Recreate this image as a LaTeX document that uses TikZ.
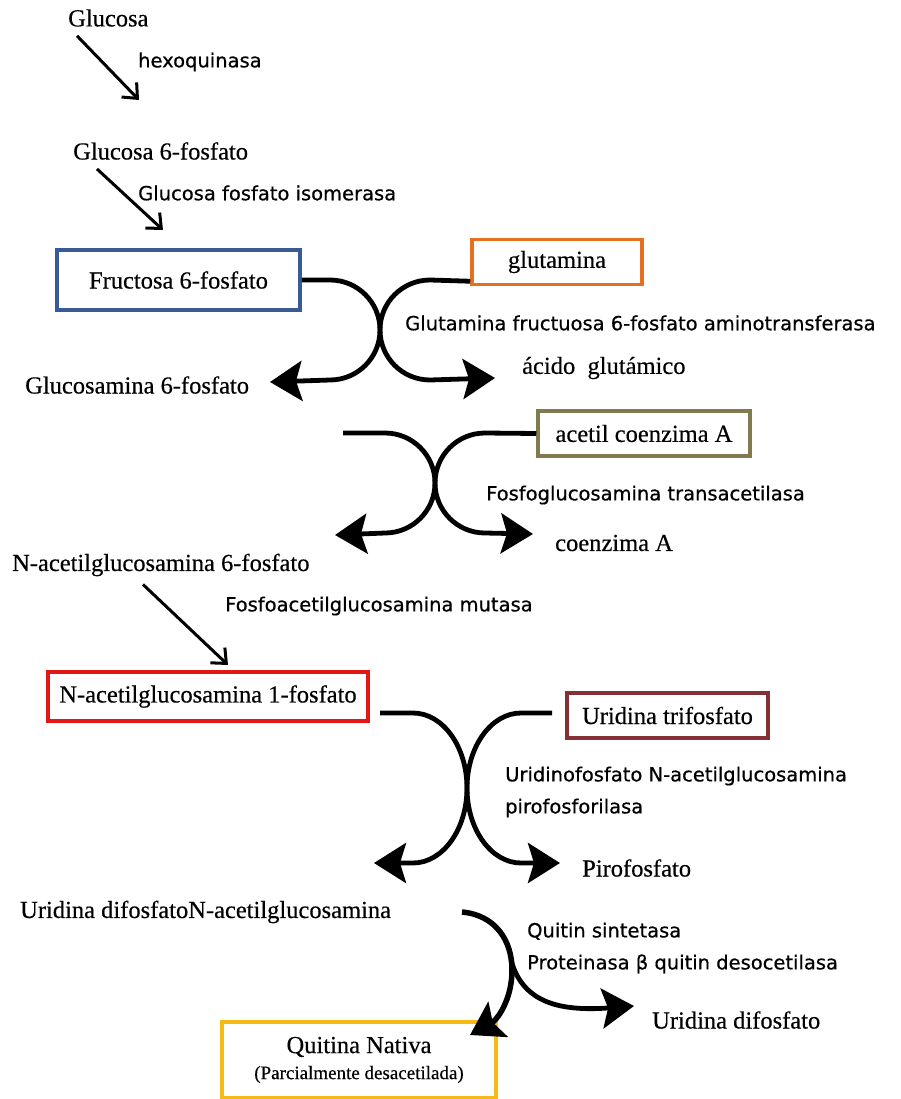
\documentclass[tikz,border=0pt]{standalone}
\usepackage{fontspec}
\setmainfont{Liberation Serif}[FakeBold=0.4]
\newfontfamily\enzfont{DejaVu Sans}[FakeBold=0.6]
\usetikzlibrary{arrows.meta,calc}

\definecolor{fruc}{RGB}{58,90,150}
\definecolor{glut}{RGB}{228,112,32}
\definecolor{acet}{RGB}{128,122,78}
\definecolor{nagred}{RGB}{228,22,22}
\definecolor{utp}{RGB}{132,48,52}
\definecolor{quit}{RGB}{245,186,20}

\begin{document}
\begin{tikzpicture}[x=1pt,y=-1pt,
  comp/.style={anchor=west,inner sep=0pt,font=\fontsize{24.5}{28}\selectfont},
  enz/.style={anchor=west,inner sep=0pt,align=left,font=\enzfont\fontsize{19.5}{32}\selectfont},
  cbox/.style={draw=#1,line width=3.5pt,inner sep=0pt,font=\fontsize{24.5}{28}\selectfont},
  diag/.style={line width=3pt,-{Straight Barb[length=12pt,width=21pt]}},
  rxn/.style={line width=4.8pt,-{Stealth[length=32pt,width=40pt,inset=6pt]}}]

  \useasboundingbox (0,0) rectangle (900,1099);

  % glucosa -> fructosa 6-fosfato
  \node[comp] (glc) at (68,18)  {Glucosa};
  \node[enz]  (hk)  at (138,62) {hexoquinasa};
  \node[comp] (g6p) at (73,151) {Glucosa 6-fosfato};
  \node[enz]  (gpi) at (138,193) {Glucosa fosfato isomerasa};
  \coordinate (a1e) at (139,100);
  \coordinate (a2e) at (163,230);
  \draw[diag] ($(glc.south west)+(9,9)$) -- (a1e);
  \draw[diag] ($(g6p.south west)+(24,9)$) -- (a2e);

  % primer cruce
  \node[cbox=fruc,minimum width=243pt,minimum height=60pt] (f6p) at (178.5,280) {Fructosa 6-fosfato};
  \node[cbox=glut,minimum width=170pt,minimum height=45pt] (gln) at (557,262) {glutamina};
  \node[enz]  (gfat) at (405,323) {Glutamina fructuosa 6-fosfato aminotransferasa};
  \node[comp] (gn6p) at (25,385) {Glucosamina 6-fosfato};
  \node[comp] (glu)  at (522,368) {ácido\ \ glutámico};
  \coordinate (x1l) at (270,382);
  \coordinate (x1r) at (495,378);
  \draw[rxn] (f6p.east) -- (330,280) .. controls (357.6,280) and (380,302.4) .. (380,330)
    .. controls (380,357.6) and (357.6,380) .. (330,380) -- (x1l);
  \draw[rxn] ($(gln.south west)+(0,-5)$) -- (430,280) .. controls (402.4,280) and (380,302.4) .. (380,330)
    .. controls (380,357.6) and (402.4,380) .. (430,380) -- (x1r);

  % segundo cruce
  \node[cbox=acet,minimum width=212pt,minimum height=45pt] (acoa) at (644,433.5) {acetil coenzima A};
  \node[enz]  (gna)  at (486,495) {Fosfoglucosamina transacetilasa};
  \node[comp] (coa)  at (555,543) {coenzima A};
  \node[comp] (nag6p) at (12,565) {N-acetilglucosamina 6-fosfato};
  \coordinate (x2s) at (343,433);
  \coordinate (x2l) at (335,535);
  \coordinate (x2r) at (533,534);
  \draw[rxn] (x2s) -- (385,433) .. controls (412.6,433) and (435,455.4) .. (435,483)
    .. controls (435,510.6) and (412.6,533) .. (385,533) -- (x2l);
  \draw[rxn] (acoa.west) -- (485,433) .. controls (457.4,433) and (435,455.4) .. (435,483)
    .. controls (435,510.6) and (457.4,533) .. (485,533) -- (x2r);

  % mutasa
  \node[enz] (agm) at (225,606) {Fosfoacetilglucosamina mutasa};
  \node[cbox=nagred,minimum width=320pt,minimum height=49pt] (nag1p) at (208,696.5) {N-acetilglucosamina 1-fosfato};
  \coordinate (a3e) at (228,665);
  \draw[diag] ($(nag6p.south west)+(131,8)$) -- (a3e);

  % tercer cruce
  \node[cbox=utp,minimum width=201pt,minimum height=45pt] (utp) at (667.5,715.5) {Uridina trifosfato};
  \node[enz]  (uap)  at (505,792) {Uridinofosfato N-acetilglucosamina\\pirofosforilasa};
  \node[comp] (ppi)  at (582,868) {Pirofosfato};
  \node[comp] (udpn) at (20,912) {Uridina difosfatoN-acetilglucosamina};
  \coordinate (x3s) at (380,713);
  \coordinate (x3t) at (552,713);
  \coordinate (x3l) at (374,863);
  \coordinate (x3r) at (560,863);
  \draw[rxn] (x3s) -- (413,713) .. controls (442.8,713) and (467,746.6) .. (467,788)
    .. controls (467,829.4) and (442.8,863) .. (413,863) -- (x3l);
  \draw[rxn] (x3t) -- (521,713) .. controls (491.2,713) and (467,746.6) .. (467,788)
    .. controls (467,829.4) and (491.2,863) .. (521,863) -- (x3r);

  % quitina
  \node[enz]  (chs) at (527,948) {Quitin sintetasa\\Proteinasa β quitin desocetilasa};
  \node[comp] (udp) at (652,1020) {Uridina difosfato};
  \node[cbox=quit,minimum width=274pt,minimum height=76pt,align=center] (quit) at (359,1060)
    {Quitina Nativa\\[-2pt]{\fontsize{19}{22}\selectfont(Parcialmente desacetilada)}};
  \coordinate (qs) at (462,912);
  \coordinate (qe) at (470,1035);
  \coordinate (qb) at (511,960);
  \coordinate (qr) at (634,1006);
  \draw[rxn,line width=5.5pt] (qs) .. controls (495,915) and (512,940) .. (512,970)
    .. controls (512,1000) and (497,1020) .. (qe);
  \draw[rxn] (qb) .. controls (522,1000) and (555,1012) .. (qr);
\end{tikzpicture}
\end{document}
